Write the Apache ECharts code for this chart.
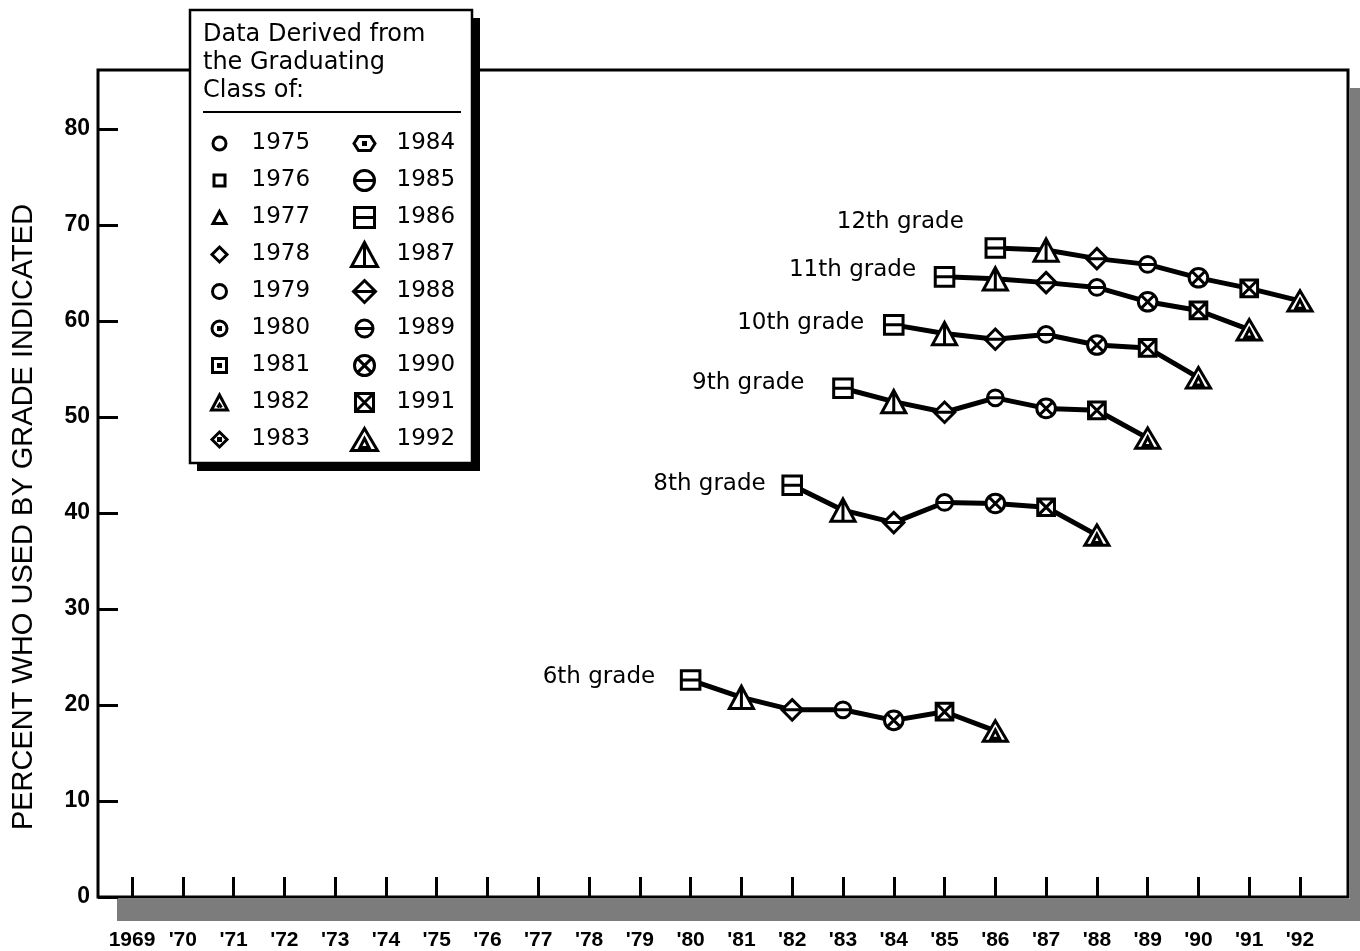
<!DOCTYPE html>
<html>
<head>
<meta charset="utf-8">
<script src="https://cdn.jsdelivr.net/npm/echarts@6/dist/echarts.min.js"></script>
<style>html,body{margin:0;padding:0;background:#fff}#c{width:1360px;height:951px}</style>
</head>
<body>
<div id="c"></div>
<script>
// ---------------- DATA ----------------
const tickYears  = [1969,1970,1971,1972,1973,1974,1975,1976,1977,1978,1979,1980,1981,1982,1983,1984,1985,1986,1987,1988,1989,1990,1991,1992];
const tickLabels = ['1969',"'70","'71","'72","'73","'74","'75","'76","'77","'78","'79","'80","'81","'82","'83","'84","'85","'86","'87","'88","'89","'90","'91","'92"];
const yTicks = [0,10,20,30,40,50,60,70,80];

const gradeNames      = ['6th grade','8th grade','9th grade','10th grade','11th grade','12th grade'];
const gradeNumbers    = [6, 8, 9, 10, 11, 12];
const gradeStartYears = [1980, 1982, 1983, 1984, 1985, 1986];
const grade6  = [22.6, 20.8, 19.5, 19.5, 18.4, 19.3, 17.3];
const grade8  = [42.9, 40.3, 39.0, 41.1, 41.0, 40.6, 37.7];
const grade9  = [53.0, 51.6, 50.5, 52.0, 50.9, 50.7, 47.8];
const grade10 = [59.6, 58.7, 58.1, 58.6, 57.5, 57.2, 54.1];
const grade11 = [64.6, 64.4, 64.0, 63.5, 62.0, 61.1, 59.1];
const grade12 = [67.6, 67.4, 66.5, 65.9, 64.5, 63.4, 62.1];
const gradeValues = [grade6, grade8, grade9, grade10, grade11, grade12];

const classYears = [1975,1976,1977,1978,1979,1980,1981,1982,1983,1984,1985,1986,1987,1988,1989,1990,1991,1992];

// ---------------- STYLE ----------------
const PAD = 'M0 0M28 28';
const circ = r => `M${14+r} 14A${r} ${r} 0 1 1 ${14-r} 14A${r} ${r} 0 1 1 ${14+r} 14Z`;
const sq = h => `M${14-h} ${14-h}L${14+h} ${14-h}L${14+h} ${14+h}L${14-h} ${14+h}Z`;
const tri = (w,h) => `M14 ${14-h/2}L${14+w/2} ${14+h/2}L${14-w/2} ${14+h/2}Z`;
const dia = h => `M14 ${14-h}L${14+h} 14L14 ${14+h}L${14-h} 14Z`;
const hl = h => `M${14-h} 14L${14+h} 14`;
const DOT = 'M13 13L15 13L15 15L13 15Z';
const shapes = {
  1975: circ(6.5),
  1976: sq(5.5),
  1977: tri(13,12),
  1978: dia(7.5),
  1979: circ(7),
  1980: circ(7.5) + DOT,
  1981: sq(7) + DOT,
  1982: tri(16,15) + 'M12 19L14 16L16 19',
  1983: dia(7.5) + DOT,
  1984: 'M3.5 14L8 7L20 7L24.5 14L20 21L8 21Z' + DOT,
  1985: circ(10) + hl(10),
  1986: sq(10) + hl(10),
  1987: tri(26,24) + 'M14 2L14 26',
  1988: dia(11) + hl(11),
  1989: circ(8.5) + hl(8.5),
  1990: circ(10) + 'M6.93 6.93L21.07 21.07M21.07 6.93L6.93 21.07',
  1991: sq(9) + 'M5 5L23 23M23 5L5 23',
  1992: tri(26,22) + 'M14 13L18.5 22L9.5 22Z'
};
const sym = c => 'path://' + PAD + shapes[c];

// grade label placement: [distance, dy]
const gradeLabelPlace = {6:[21,-3], 8:[12,-1], 9:[24,-5], 10:[15,-2], 11:[14,-7], 12:[17,-26]};

const FONT_AX = 'Liberation Sans';
const FONT_TX = 'DejaVu Sans';

// ---------------- SERIES ----------------
const series = [];
gradeNames.forEach((name, gi) => {
  series.push({
    type: 'line', name: name, silent: true, z: 2,
    symbol: 'none', showSymbol: false,
    lineStyle: {color: '#000', width: 5},
    data: gradeValues[gi].map((v, i) => [gradeStartYears[gi] + i, v])
  });
});
classYears.forEach(c => {
  const data = [];
  gradeNumbers.forEach((g, gi) => {
    const year = c - (12 - g);
    const idx = year - gradeStartYears[gi];
    if (idx >= 0 && idx < gradeValues[gi].length) {
      const item = {value: [year, gradeValues[gi][idx]]};
      if (idx === 0) {
        const p = gradeLabelPlace[g];
        item.label = {
          show: true, formatter: gradeNames[gi], position: 'left',
          distance: p[0], offset: [0, p[1]],
          fontFamily: FONT_TX, fontSize: 23, color: '#000'
        };
      }
      data.push(item);
    }
  });
  series.push({
    type: 'scatter', name: String(c), z: 3, silent: true,
    symbol: sym(c), symbolSize: 26, symbolKeepAspect: true,
    itemStyle: {color: '#fff', borderColor: '#000', borderWidth: 3, opacity: 1},
    emphasis: {disabled: true},
    data: data
  });
});

const legendCommon = {
  orient: 'vertical', padding: 0, itemWidth: 28, itemHeight: 28, itemGap: 6.0,
  selectedMode: false, symbolKeepAspect: true, z: 110,
  itemStyle: {color: '#fff', borderColor: '#000', borderWidth: 3},
  textStyle: {fontFamily: FONT_TX, fontSize: 23, color: '#000', lineHeight: 26, padding: [0,0,0,13]}
};

const option = {
  backgroundColor: '#fff',
  animation: false,
  title: {
    text: 'Data Derived from\nthe Graduating\nClass of:',
    left: 203, top: 21, padding: 0, z: 110,
    textStyle: {fontFamily: FONT_TX, fontSize: 24, lineHeight: 28, fontWeight: 'normal', color: '#000'}
  },
  legend: [
    Object.assign({}, legendCommon, {left: 204, top: 128, data: classYears.slice(0,9).map(c => ({name: String(c), icon: sym(c)}))}),
    Object.assign({}, legendCommon, {left: 349, top: 128, data: classYears.slice(9).map(c => ({name: String(c), icon: sym(c)}))})
  ],
  grid: {
    left: 98, right: 12, top: 70, bottom: 54,
    show: true, borderColor: '#000', borderWidth: 3, backgroundColor: 'transparent',
    outerBoundsMode: 'none', containLabel: false
  },
  xAxis: {
    type: 'value', min: 1968.33, max: 1992.945,
    splitLine: {show: false},
    axisLine: {show: false},
    axisTick: {show: true, inside: true, length: 20, customValues: tickYears, lineStyle: {color: '#000', width: 3}},
    axisLabel: {
      show: true, customValues: tickYears, margin: 33,
      fontFamily: FONT_AX, fontSize: 21, fontWeight: 'bold', color: '#000',
      formatter: v => tickLabels[tickYears.indexOf(Math.round(v))]
    }
  },
  yAxis: {
    type: 'value', min: 0, max: 86.15,
    name: 'PERCENT WHO USED BY GRADE INDICATED',
    nameLocation: 'middle', nameRotate: 90, nameGap: 60,
    nameTextStyle: {fontFamily: FONT_AX, fontSize: 29, color: '#000', padding: [0, 67, 0, 0]},
    splitLine: {show: false},
    axisLine: {show: false},
    axisTick: {show: true, inside: true, length: 20, customValues: yTicks, lineStyle: {color: '#000', width: 3}},
    axisLabel: {show: true, customValues: yTicks, margin: 8, fontFamily: FONT_AX, fontSize: 23, fontWeight: 'bold', color: '#000'}
  },
  graphic: {
    elements: [
      {type: 'rect', z: 1, silent: true, shape: {x: 117, y: 899, width: 1243, height: 22}, style: {fill: '#7c7c7c'}},
      {type: 'rect', z: 1, silent: true, shape: {x: 1350, y: 88, width: 10, height: 833}, style: {fill: '#7c7c7c'}},
      {type: 'rect', z: 100, silent: true, shape: {x: 197, y: 18, width: 283, height: 453}, style: {fill: '#000'}},
      {type: 'rect', z: 101, silent: true, shape: {x: 190, y: 10, width: 282, height: 453}, style: {fill: '#fff', stroke: '#000', lineWidth: 2.5}},
      {type: 'line', z: 102, silent: true, shape: {x1: 203, y1: 112, x2: 461, y2: 112}, style: {stroke: '#000', lineWidth: 2}}
    ]
  },
  series: series
};

const chart = echarts.init(document.getElementById('c'), null, {renderer: 'canvas'});
chart.setOption(option);
</script>
</body>
</html>
